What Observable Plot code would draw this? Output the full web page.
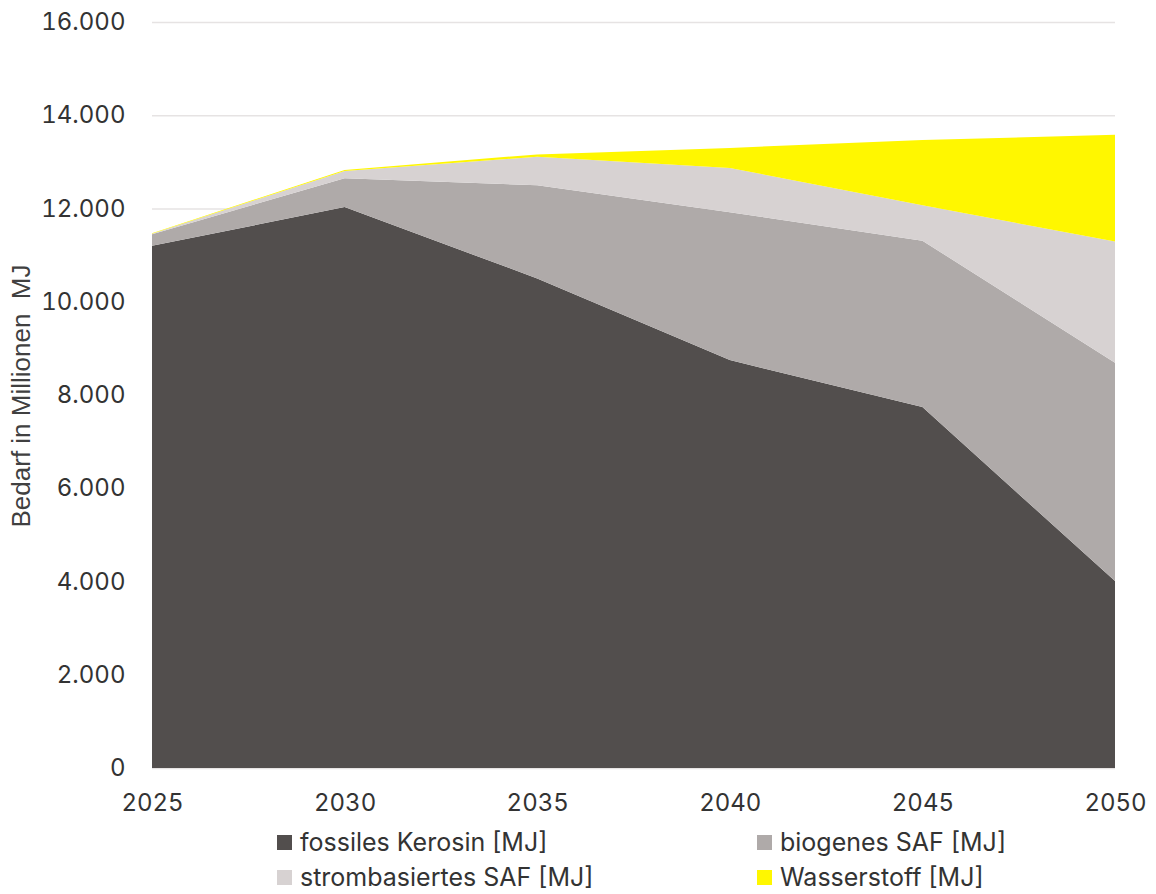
<!DOCTYPE html>
<html>
<head>
<meta charset="utf-8">
<script src="https://cdn.jsdelivr.net/npm/d3@7"></script>
<script src="https://cdn.jsdelivr.net/npm/@observablehq/plot@0.6"></script>
<style>
  html, body { margin: 0; padding: 0; background: #fff; }
  #wrap { position: relative; width: 1156px; height: 894px; font-family: Inter, Roboto, sans-serif; color: #333; }
  #chart { position: absolute; left: 0; top: 0; }
  #ylabel { position: absolute; left: 21px; top: 396px; transform: translate(-50%, -50%) rotate(-90deg); white-space: pre; font-family: "Liberation Sans", Arial, sans-serif; font-size: 26px; color: #404040; }
  .leg { position: absolute; display: flex; align-items: center; font-size: 25px; color: #333; white-space: nowrap; }
  .leg span.sw { display: inline-block; width: 15px; height: 15px; margin-right: 8px; }
</style>
</head>
<body>
<div id="wrap">
  <div id="chart"></div>
  <div id="ylabel">Bedarf in Millionen  MJ</div>
  <div id="legend"></div>
</div>
<script>
// Jahre und Energiebedarf je Kraftstoffart (Millionen MJ)
const years = [2025, 2030, 2035, 2040, 2045, 2050];
const seriesNames = ["fossiles Kerosin [MJ]", "biogenes SAF [MJ]", "strombasiertes SAF [MJ]", "Wasserstoff [MJ]"];
const fossil = [11200, 12030, 10500, 8750, 7740, 4010];
const biogen = [250, 620, 2000, 3170, 3570, 4680];
const strom = [10, 155, 610, 950, 760, 2600];
const wasserstoff = [10, 20, 50, 430, 1400, 2290];
const seriesColors = ["#524e4d", "#afaaa9", "#d7d2d2", "#fff700"];
const yTicks = [0, 2000, 4000, 6000, 8000, 10000, 12000, 14000, 16000];

const seriesValues = [fossil, biogen, strom, wasserstoff];
const rows = [];
seriesNames.forEach((name, i) => {
  years.forEach((yr, j) => rows.push({year: yr, series: name, value: seriesValues[i][j]}));
});

const de = d3.formatLocale({decimal: ",", thousands: ".", grouping: [3], currency: ["", " €"]});
const fmt = de.format(",d");

const chart = Plot.plot({
  width: 1156,
  height: 820,
  marginLeft: 152,
  marginRight: 41,
  marginTop: 22,
  marginBottom: 52,
  style: {fontFamily: "Inter, Roboto, sans-serif", fontSize: "24px", color: "#333", background: "transparent"},
  x: {domain: [2025, 2050]},
  y: {domain: [0, 16000]},
  color: {domain: seriesNames, range: seriesColors},
  marks: [
    Plot.ruleY(yTicks, {stroke: "#e6e3e3", strokeWidth: 1.5}),
    Plot.areaY(rows, {x: "year", y: "value", fill: "series", order: seriesNames}),
    Plot.axisY({ticks: yTicks, tickFormat: fmt, tickSize: 0, tickPadding: 27, label: null, fill: "#333"}),
    Plot.axisX({ticks: years, tickFormat: d => String(d), tickSize: 0, tickPadding: 25, label: null, fill: "#333"})
  ]
});
document.getElementById("chart").appendChild(chart);

// Legende unter dem Diagramm, zwei Spalten
const legend = document.getElementById("legend");
const legPos = [[277, 842], [757, 842], [277, 877], [757, 877]];
seriesNames.forEach((name, i) => {
  const d = document.createElement("div");
  d.className = "leg";
  d.style.left = legPos[i][0] + "px";
  d.style.top = (legPos[i][1] - 15) + "px";
  d.style.height = "30px";
  const sw = document.createElement("span");
  sw.className = "sw";
  sw.style.background = seriesColors[i];
  d.appendChild(sw);
  d.appendChild(document.createTextNode(name));
  legend.appendChild(d);
});
</script>
</body>
</html>
